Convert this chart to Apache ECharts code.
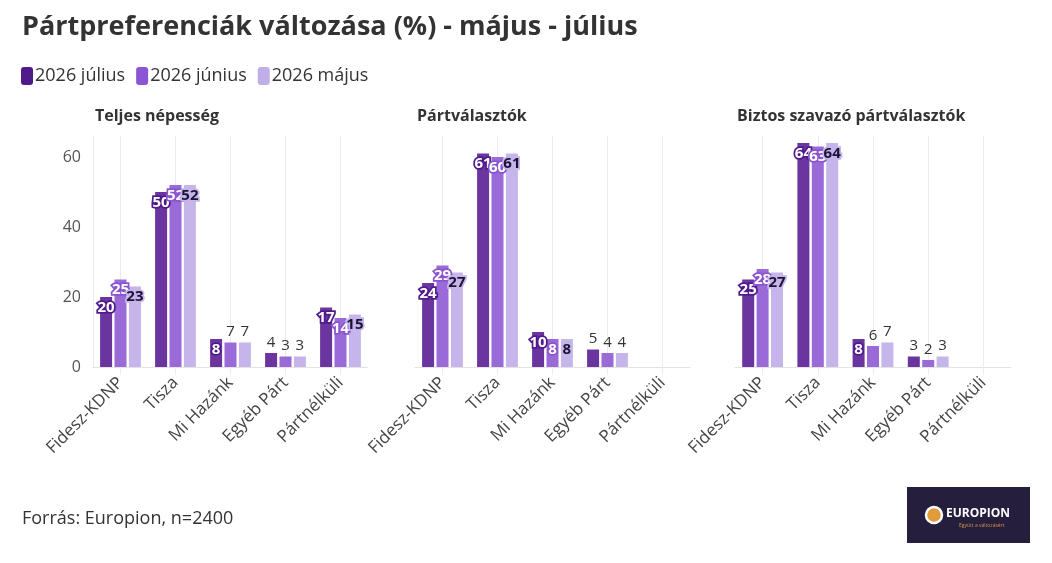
<!DOCTYPE html>
<html>
<head>
<meta charset="utf-8">
<script src="https://cdn.jsdelivr.net/npm/echarts@6/dist/echarts.min.js"></script>
<style>
  html, body { margin: 0; padding: 0; background: #fff; }
  #chart { width: 1052px; height: 563px; }
</style>
</head>
<body>
<div id="chart"></div>
<script>
var categories = ['Fidesz-KDNP', 'Tisza', 'Mi Hazánk', 'Egyéb Párt', 'Pártnélküli'];
var panelTitles = ['Teljes népesség', 'Pártválasztók', 'Biztos szavazó pártválasztók'];
var seriesNames = ['2026 július', '2026 június', '2026 május'];

// Teljes népesség
var teljesJul = [20, 50, 8, 4, 17];
var teljesJun = [25, 52, 7, 3, 14];
var teljesMaj = [23, 52, 7, 3, 15];
// Pártválasztók
var partJul = [24, 61, 10, 5, null];
var partJun = [29, 60, 8, 4, null];
var partMaj = [27, 61, 8, 4, null];
// Biztos szavazó pártválasztók
var biztosJul = [25, 64, 8, 3, null];
var biztosJun = [28, 63, 6, 2, null];
var biztosMaj = [27, 64, 7, 3, null];

var panels = [
  [teljesJul, teljesJun, teljesMaj],
  [partJul, partJun, partMaj],
  [biztosJul, biztosJun, biztosMaj]
];

var barColors = ['#6a359f', '#9a6ad8', '#c5b5ea'];
var legendColors = ['#4f1b8b', '#8c55d6', '#c0aee6'];
var borderColors = ['#4f1b8b', '#8a55cf', '#c5b5ea'];
var insideText = ['#fff', '#fff', '#1c1236'];

var gridPos = [
  { left: 93, width: 275 },
  { left: 415, width: 275 },
  { left: 735, width: 276 }
];

var chart = echarts.init(document.getElementById('chart'));

var titles = [{
  text: 'Pártpreferenciák változása (%) - május - július',
  left: 17, top: 9,
  textStyle: { fontFamily: 'Open Sans', fontSize: 27, fontWeight: 'bold', color: '#333' }
}];
panelTitles.forEach(function (t, i) {
  titles.push({
    text: t, left: gridPos[i].left - 3, top: 103,
    textStyle: { fontFamily: 'Open Sans', fontSize: 16, fontWeight: 'bold', color: '#333' }
  });
});

var grids = [], xAxes = [], yAxes = [], series = [];
gridPos.forEach(function (g, i) {
  grids.push({ left: g.left, width: g.width, top: 136, bottom: 196 });
  xAxes.push({
    type: 'category', gridIndex: i, data: categories,
    axisLine: { lineStyle: { color: '#e3e3e3' } },
    axisTick: { show: true, alignWithLabel: true, length: 8, lineStyle: { color: '#ececec' } },
    splitLine: { show: true, alignWithLabel: true, lineStyle: { color: '#ececec' } },
    axisLabel: { rotate: 45, margin: 13, fontFamily: 'Open Sans', fontSize: 17, color: '#444' }
  });
  yAxes.push({
    type: 'value', gridIndex: i, min: 0, max: 66, interval: 20,
    axisLine: { show: i === 0, lineStyle: { color: '#ececec' } },
    axisTick: { show: false },
    splitLine: { show: false },
    axisLabel: { show: i === 0, showMaxLabel: false, margin: 12, fontFamily: 'Open Sans', fontSize: 16, color: '#555' }
  });
  panels[i].forEach(function (vals, s) {
    series.push({
      name: seriesNames[s], type: 'bar', xAxisIndex: i, yAxisIndex: i,
      barWidth: 12, barGap: '20%',
      itemStyle: { color: barColors[s] },
      data: vals.map(function (v) {
        if (v === null) return '-';
        var inside = v >= 8;
        return {
          value: v,
          label: inside ? {
            show: true, position: 'insideTop', distance: 3,
            fontFamily: 'Open Sans', fontSize: 15, fontWeight: 'bold',
            color: insideText[s], textBorderColor: borderColors[s], textBorderWidth: 3.5
          } : {
            show: true, position: 'top', distance: 3,
            fontFamily: 'Open Sans', fontSize: 15, color: '#333'
          }
        };
      })
    });
  });
});

chart.setOption({
  animation: false,
  title: titles,
  legend: {
    left: 16, top: 62, itemWidth: 12, itemHeight: 18, itemGap: 11,
    icon: 'roundRect',
    textStyle: { fontFamily: 'Open Sans', fontSize: 18, color: '#333', padding: [0, 0, 0, -3] },
    data: seriesNames.map(function (n, i) {
      return { name: n, itemStyle: { color: legendColors[i] } };
    })
  },
  grid: grids,
  xAxis: xAxes,
  yAxis: yAxes,
  series: series,
  graphic: [
    {
      type: 'text', left: 22, top: 510,
      style: { text: 'Forrás: Europion, n=2400', fontFamily: 'Open Sans', fontSize: 18, fill: '#333' }
    },
    {
      type: 'group', left: 907, top: 487,
      children: [
        { type: 'rect', shape: { x: 0, y: 0, width: 123, height: 56 }, style: { fill: '#251e3d' } },
        { type: 'circle', shape: { cx: 27, cy: 28, r: 8 }, style: { fill: '#e39a3b', stroke: '#fff', lineWidth: 2.5 } },
        { type: 'text', x: 39, y: 21, style: { text: 'EUROPION', fontFamily: 'Open Sans', fontSize: 12, fontWeight: 'bold', fill: '#fff' } },
        { type: 'text', x: 52, y: 36, style: { text: 'Együtt a változásért', fontFamily: 'Open Sans', fontSize: 5, fill: '#d79445' } }
      ]
    }
  ]
});
</script>
</body>
</html>
